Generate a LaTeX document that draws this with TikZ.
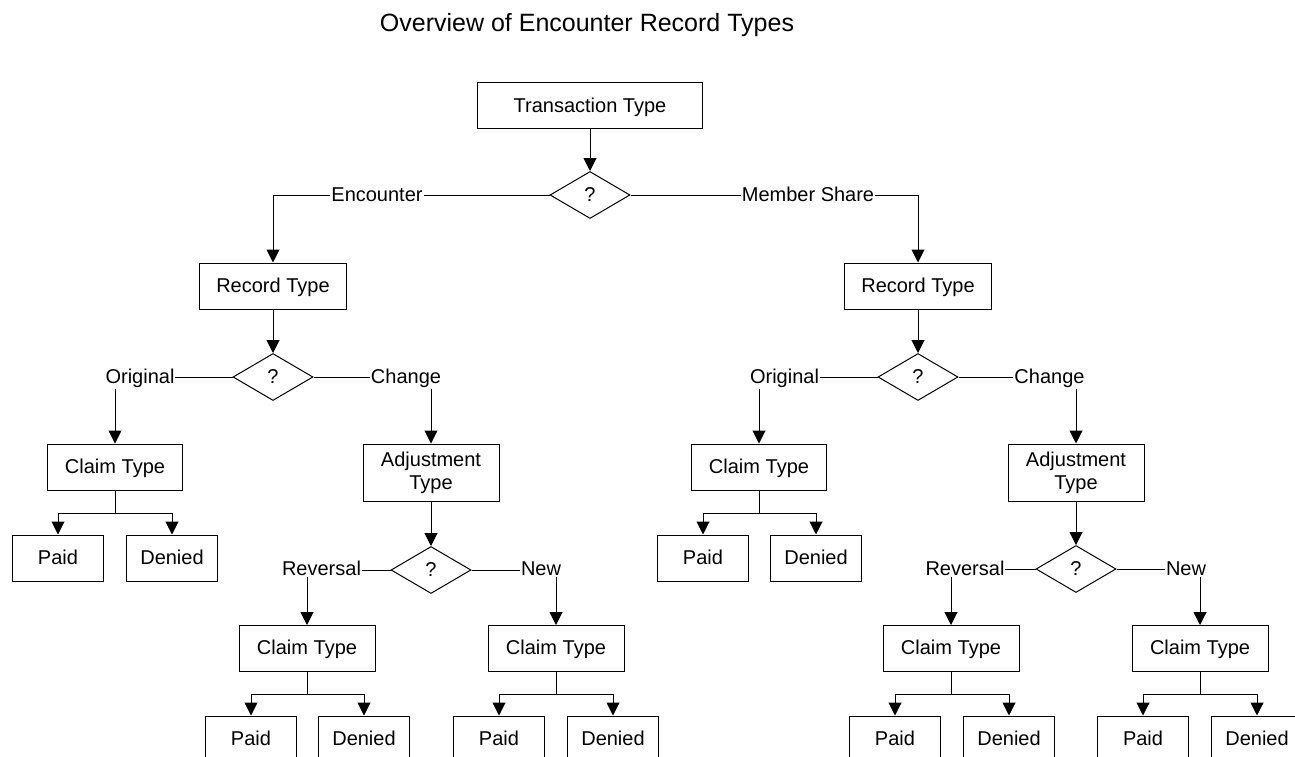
\documentclass[tikz,border=0pt]{standalone}
\usepackage{fontspec}
\setmainfont{Liberation Sans}
\usetikzlibrary{shapes.geometric,arrows.meta}
\begin{document}
\begin{tikzpicture}[x=1pt,y=-1pt]
            \tikzstyle{every node}=[font=\fontsize{20}{23}\selectfont]
            \tikzstyle{block}=[draw, line width=1pt, minimum height=46pt, inner sep=0pt, text height=14.3pt, text depth=2pt]
            \tikzstyle{twoline}=[block, align=center, minimum height=57pt, text height=, text depth=]
            \tikzstyle{decision}=[draw, diamond, line width=1pt, minimum width=80pt, minimum height=47pt, inner sep=0pt]
            \tikzstyle{choice}=[fill=white, inner sep=1pt, anchor=base]
            \tikzstyle{link}=[line width=1pt, -{Triangle[width=13pt,length=13pt]}]

            \clip (0,0) rectangle (1295,757);

            \node[anchor=base, font=\fontsize{25}{30}\selectfont] (title) at (587,32) {Overview of Encounter Record Types};

            \node[block, minimum width=225pt] (trans) at (590,106) {Transaction Type};
            \node[decision] (q0) at (590,195) {?};

            \node[block, minimum width=147pt] (recL) at (273,286) {Record Type};
            \node[decision] (qL) at (273,377) {?};
            \node[block, minimum width=135pt] (claimL) at (115,467) {Claim Type};
            \node[block, minimum width=91pt] (paidL) at (58,558) {Paid};
            \node[block, minimum width=91pt] (deniedL) at (172,558) {Denied};
            \node[twoline, minimum width=136pt] (adjL) at (431,472.5) {Adjustment\\Type};
            \node[decision] (qLA) at (431,570) {?};
            \node[block, minimum width=136pt] (claimLA) at (307,648.5) {Claim Type};
            \node[block, minimum width=91pt] (paidLA) at (251,739) {Paid};
            \node[block, minimum width=91pt] (deniedLA) at (364,739) {Denied};
            \node[block, minimum width=136pt] (claimLB) at (556,648.5) {Claim Type};
            \node[block, minimum width=91pt] (paidLB) at (499,739) {Paid};
            \node[block, minimum width=91pt] (deniedLB) at (613,739) {Denied};

            \node[block, minimum width=147pt] (recR) at (918,286) {Record Type};
            \node[decision] (qR) at (918,377) {?};
            \node[block, minimum width=135pt] (claimR) at (759,467) {Claim Type};
            \node[block, minimum width=91pt] (paidR) at (703,558) {Paid};
            \node[block, minimum width=91pt] (deniedR) at (816,558) {Denied};
            \node[twoline, minimum width=136pt] (adjR) at (1076,472.5) {Adjustment\\Type};
            \node[decision] (qRA) at (1076,569) {?};
            \node[block, minimum width=136pt] (claimRA) at (951,648.5) {Claim Type};
            \node[block, minimum width=91pt] (paidRA) at (895,739) {Paid};
            \node[block, minimum width=91pt] (deniedRA) at (1009,739) {Denied};
            \node[block, minimum width=136pt] (claimRB) at (1200,648.5) {Claim Type};
            \node[block, minimum width=91pt] (paidRB) at (1143,739) {Paid};
            \node[block, minimum width=91pt] (deniedRB) at (1257,739) {Denied};

            \draw[link] (trans.south) -- (q0.north);
            \draw[link] (q0.west) -| (recL.north);
            \draw[link] (q0.east) -| (recR.north);

            \draw[link] (recL.south) -- (qL.north);
            \draw[link] (qL.west) -| (claimL.north);
            \draw[link] (qL.east) -| (adjL.north);
            \draw[link] (claimL.south) -- ++(0,22.5) -| (paidL.north);
            \draw[link] (claimL.south) -- ++(0,22.5) -| (deniedL.north);
            \draw[link] (adjL.south) -- (qLA.north);
            \draw[link] (qLA.west) -| (claimLA.north);
            \draw[link] (qLA.east) -| (claimLB.north);
            \draw[link] (claimLA.south) -- ++(0,22.5) -| (paidLA.north);
            \draw[link] (claimLA.south) -- ++(0,22.5) -| (deniedLA.north);
            \draw[link] (claimLB.south) -- ++(0,22.5) -| (paidLB.north);
            \draw[link] (claimLB.south) -- ++(0,22.5) -| (deniedLB.north);

            \draw[link] (recR.south) -- (qR.north);
            \draw[link] (qR.west) -| (claimR.north);
            \draw[link] (qR.east) -| (adjR.north);
            \draw[link] (claimR.south) -- ++(0,22.5) -| (paidR.north);
            \draw[link] (claimR.south) -- ++(0,22.5) -| (deniedR.north);
            \draw[link] (adjR.south) -- (qRA.north);
            \draw[link] (qRA.west) -| (claimRA.north);
            \draw[link] (qRA.east) -| (claimRB.north);
            \draw[link] (claimRA.south) -- ++(0,22.5) -| (paidRA.north);
            \draw[link] (claimRA.south) -- ++(0,22.5) -| (deniedRA.north);
            \draw[link] (claimRB.south) -- ++(0,22.5) -| (paidRB.north);
            \draw[link] (claimRB.south) -- ++(0,22.5) -| (deniedRB.north);

            \node[choice] (encounter) at (377,201.5) {Encounter};
            \node[choice] (member) at (808,201.5) {Member Share};
            \node[choice] (origL) at (140,383.5) {Original};
            \node[choice] (changeL) at (406,383.5) {Change};
            \node[choice] (revL) at (321.5,575.5) {Reversal};
            \node[choice] (newL) at (541,575.5) {New};
            \node[choice] (origR) at (784.5,383.5) {Original};
            \node[choice] (changeR) at (1049.5,383.5) {Change};
            \node[choice] (revR) at (965,575.5) {Reversal};
            \node[choice] (newR) at (1186,575.5) {New};

          \end{tikzpicture}
\end{document}
